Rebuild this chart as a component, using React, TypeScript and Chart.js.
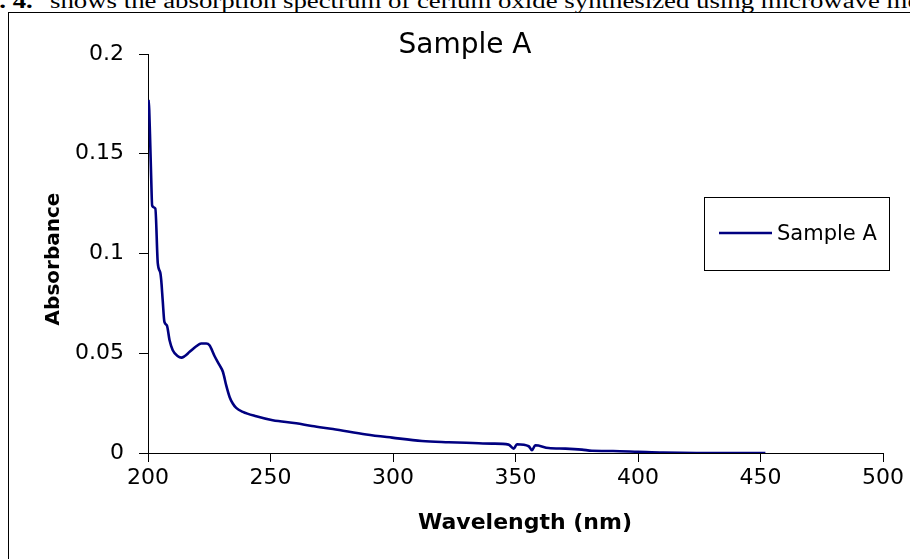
import React, { useEffect, useRef } from 'react';
import { Chart, registerables } from 'chart.js';

Chart.register(...registerables);

const chartTitle = 'Sample A';
const seriesLabel = 'Sample A';
const xAxisTitle = 'Wavelength (nm)';
const yAxisTitle = 'Absorbance';
const captionLead = 'Fig. 4.';
const captionText = 'shows the absorption spectrum of cerium oxide synthesized using microwave method';

const wavelengths = [
  200.2, 200.5, 200.8, 201.3, 201.7, 203.0, 204.0, 205.0, 205.4, 206.0,
  206.7, 207.7, 208.8, 210.1, 212.2, 213.6, 214.9, 217.0, 219.7, 221.7,
  223.8, 225.1, 227.2, 229.2, 230.6, 231.9, 233.3, 234.6, 236.0, 238.7,
  244.2, 250.9, 260.5, 266.9, 275.5, 289.1, 299.6, 311.8, 322.7, 332.6,
  340.4, 347.2, 349.3, 350.6, 355.4, 356.7, 358.1, 363.5, 370.4, 377.1,
  381.2, 389.8, 400.0, 410.2, 423.8, 446.0, 452.0,
];

const absorbance = [
  0.177, 0.172, 0.160, 0.138, 0.124, 0.1225, 0.095, 0.0905, 0.0866, 0.0765,
  0.0657, 0.064, 0.0565, 0.0515, 0.0485, 0.0478, 0.0485, 0.0507, 0.0535, 0.0549,
  0.0549, 0.054, 0.0485, 0.044, 0.0406, 0.034, 0.0281, 0.0248, 0.0226, 0.0206,
  0.0184, 0.0164, 0.0149, 0.0135, 0.012, 0.0093, 0.0077, 0.006, 0.0054, 0.005,
  0.0047, 0.0042, 0.0022, 0.0044, 0.0034, 0.0014, 0.0039, 0.0025, 0.0022, 0.0017,
  0.0011, 0.001, 0.0006, 0.0002, 0.0, 0.0, 0.0,
];

const xTickValues = [200, 250, 300, 350, 400, 450, 500];
const yTickValues = [0, 0.05, 0.1, 0.15, 0.2];
const yTickLabels = ['0', '0.05', '0.1', '0.15', '0.2'];

const FONT = '"DejaVu Sans", "Liberation Sans", Arial, sans-serif';

const decorPlugin = {
  id: 'decor',
  afterDraw(chart: any) {
    const ctx = chart.ctx as CanvasRenderingContext2D;
    ctx.save();
    ctx.fillStyle = '#000';
    // chart title
    ctx.font = `28px ${FONT}`;
    ctx.textAlign = 'center';
    ctx.textBaseline = 'alphabetic';
    ctx.fillText(chartTitle, 465, 53);
    // x axis title
    ctx.font = `bold 22px ${FONT}`;
    ctx.textBaseline = 'middle';
    ctx.fillText(xAxisTitle, 525, 523);
    // y axis title
    ctx.save();
    ctx.translate(54, 259);
    ctx.rotate(-Math.PI / 2);
    ctx.font = `bold 20px ${FONT}`;
    ctx.fillText(yAxisTitle, 0, 0);
    ctx.restore();
    // legend box
    ctx.strokeStyle = '#000';
    ctx.lineWidth = 1;
    ctx.strokeRect(704.5, 197.5, 185, 73);
    const ds = chart.data.datasets[0];
    ctx.strokeStyle = ds.borderColor;
    ctx.lineWidth = 2.5;
    ctx.beginPath();
    ctx.moveTo(719, 233);
    ctx.lineTo(772, 233);
    ctx.stroke();
    ctx.fillStyle = '#000';
    ctx.font = `21px ${FONT}`;
    ctx.textAlign = 'left';
    ctx.textBaseline = 'alphabetic';
    ctx.fillText(ds.label, 777, 240);
    ctx.restore();
  },
};

export default function App() {
  const ref = useRef<HTMLCanvasElement>(null);

  useEffect(() => {
    const chart = new Chart(ref.current!, {
      type: 'line',
      data: {
        datasets: [
          {
            label: seriesLabel,
            data: wavelengths.map((x, i) => ({ x, y: absorbance[i] })),
            borderColor: '#000080',
            borderWidth: 2.6,
            pointRadius: 0,
            fill: false,
            cubicInterpolationMode: 'monotone',
            borderJoinStyle: 'round',
          },
        ],
      },
      options: {
        animation: false,
        responsive: false,
        devicePixelRatio: 1,
        layout: { padding: { left: 0, top: 54, right: 27, bottom: 0 } },
        plugins: { legend: { display: false }, tooltip: { enabled: false } },
        scales: {
          x: {
            type: 'linear',
            min: 200,
            max: 500,
            afterBuildTicks: (s: any) => {
              s.ticks = xTickValues.map((v) => ({ value: v }));
            },
            afterFit: (s: any) => {
              s.height = 106;
            },
            ticks: {
              font: { family: FONT, size: 22 },
              color: '#000',
              padding: 3,
              maxRotation: 0,
              autoSkip: false,
              callback: (v: any) => String(v),
            },
            grid: { drawOnChartArea: false, tickLength: 9, color: '#000' },
            border: { color: '#000', width: 1 },
            title: { display: false },
          },
          y: {
            type: 'linear',
            min: 0,
            max: 0.2,
            afterBuildTicks: (s: any) => {
              s.ticks = yTickValues.map((v) => ({ value: v }));
            },
            afterFit: (s: any) => {
              s.width = 148;
            },
            ticks: {
              font: { family: FONT, size: 22 },
              color: '#000',
              padding: 15,
              callback: (v: any) => {
                const i = yTickValues.findIndex((t) => Math.abs(t - v) < 1e-9);
                return i >= 0 ? yTickLabels[i] : '';
              },
            },
            grid: { drawOnChartArea: false, tickLength: 9, color: '#000' },
            border: { color: '#000', width: 1 },
            title: { display: false },
          },
        },
      },
      plugins: [decorPlugin],
    } as any);
    return () => chart.destroy();
  }, []);

  const serif = '"Liberation Serif", "Times New Roman", serif';

  return (
    <div
      style={{
        position: 'fixed',
        left: 0,
        top: 0,
        width: 910,
        height: 559,
        overflow: 'hidden',
        background: '#fff',
      }}
    >
      <div style={{ position: 'absolute', left: 0, top: 0, width: 910, height: 12, overflow: 'hidden' }}>
        <div
          style={{
            position: 'absolute',
            right: 910 - 33,
            top: -9,
            fontFamily: serif,
            fontSize: 20,
            lineHeight: '20px',
            fontWeight: 'bold',
            whiteSpace: 'nowrap',
            transform: 'scaleX(1.34)',
            transformOrigin: 'right top',
            color: '#000',
          }}
        >
          {captionLead}
        </div>
        <div
          style={{
            position: 'absolute',
            left: 50,
            top: -9,
            fontFamily: serif,
            fontSize: 20,
            lineHeight: '20px',
            whiteSpace: 'nowrap',
            transform: 'scaleX(1.34)',
            transformOrigin: 'left top',
            color: '#000',
          }}
        >
          {captionText}
        </div>
      </div>
      <div
        style={{
          position: 'absolute',
          left: 8,
          top: 12,
          width: 1000,
          height: 1000,
          border: '1px solid #000',
        }}
      />
      <canvas
        ref={ref}
        width={910}
        height={559}
        style={{ position: 'absolute', left: 0, top: 0, display: 'block' }}
      />
    </div>
  );
}
